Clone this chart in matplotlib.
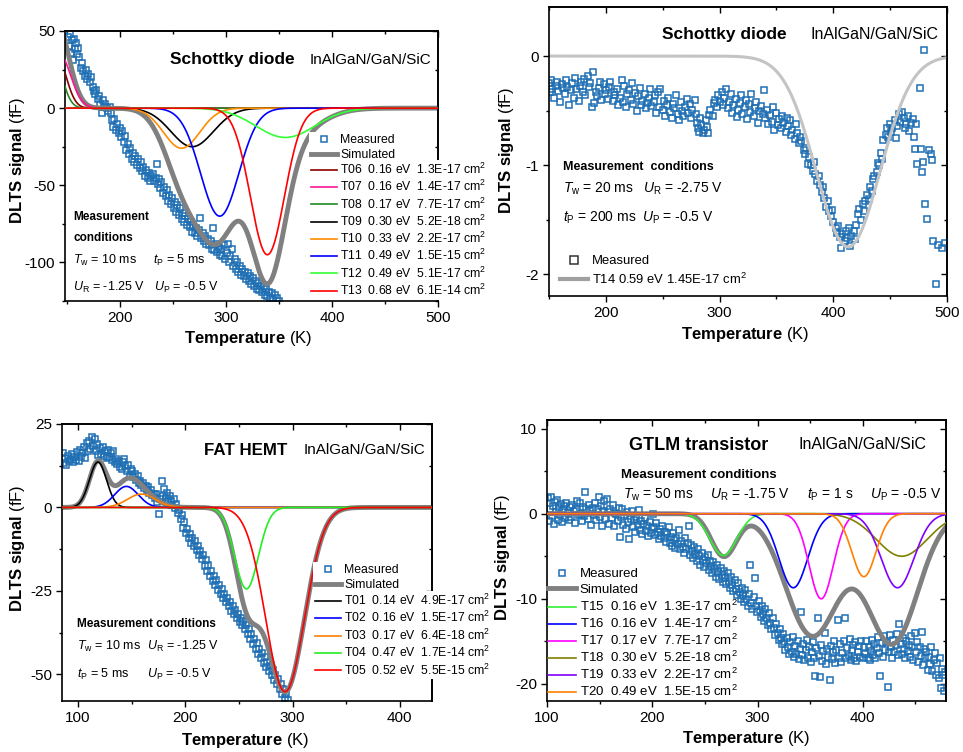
# DLTS spectra of InAlGaN/GaN/SiC devices: four panels, measured points + simulated trap peaks.
import numpy as np
import matplotlib
matplotlib.use("Agg")
import matplotlib.pyplot as plt
from matplotlib.lines import Line2D
from matplotlib.ticker import MultipleLocator

plt.rcParams.update({
    "font.family": ["Liberation Sans", "DejaVu Sans"],
    "mathtext.fontset": "custom",
    "mathtext.rm": "Liberation Sans",
    "mathtext.it": "Liberation Sans:italic",
    "mathtext.bf": "Liberation Sans:bold",
    "axes.unicode_minus": False,
})

W, H = 963, 752
BLUE = "#1f6fb4"
GREY = "#808080"

# ---------------- panel 1: Schottky diode, traps T06-T13
p1_names = ["T06", "T07", "T08", "T09", "T10", "T11", "T12", "T13"]
p1_energy = ["0.16", "0.16", "0.17", "0.30", "0.33", "0.49", "0.49", "0.68"]
p1_xsec = ["1.3E-17", "1.4E-17", "7.7E-17", "5.2E-18", "2.2E-17", "1.5E-15", "5.1E-17", "6.1E-14"]
p1_peak_T = [140, 142, 135, 268, 258, 294, 356, 339]
p1_peak_S = [34, 36, 40, -25, -26, -70, -19, -95]
p1_width = [9, 11, 9, 20, 17, 18, 28, 16]
p1_colors = ["#8b0000", "#ff1493", "#228b22", "#000000", "#ff8c00", "#0000ff", "#33ff33", "#ff0000"]
# low-temperature (positive) part of the grey simulated curve
p1_sim_low = (140, 56, 11.4)

p1_temp = [150.5, 151.5, 152.5, 153.5, 154.5, 155.5, 156.5, 157.5, 158.5, 159.5, 160.5, 161.5,
           163.0, 164.0, 165.0, 166.5, 167.5, 169.0, 170.0, 171.5, 172.5, 174.0, 175.0, 176.5,
           177.5, 179.0, 180.0, 181.5, 182.5, 183.5, 185.0, 186.0, 187.5, 188.5, 190.0, 191.0,
           192.0, 193.5, 194.5, 196.0, 197.0, 198.5, 199.5, 201.0, 202.0, 203.5, 204.5, 206.0,
           207.0, 208.5, 209.5, 211.0, 212.0, 213.5, 214.5, 216.0, 217.0, 218.5, 219.5, 221.0,
           222.0, 223.5, 224.5, 226.0, 227.0, 228.5, 229.5, 231.0, 232.0, 233.5, 234.5, 235.5,
           236.5, 238.0, 239.0, 240.5, 241.5, 243.0, 244.0, 245.5, 246.5, 248.0, 249.0, 250.5,
           251.5, 253.0, 254.0, 255.5, 256.5, 258.0, 259.0, 260.5, 261.5, 263.0, 264.0, 265.5,
           266.5, 268.0, 269.0, 270.5, 271.5, 273.0, 274.0, 275.5, 276.5, 278.0, 279.0, 280.5,
           281.5, 283.0, 284.0, 285.5, 286.5, 288.0, 289.0, 290.5, 291.5, 293.0, 294.0, 295.5,
           296.5, 298.0, 299.0, 300.5, 301.5, 303.0, 304.0, 305.5, 306.5, 308.0, 309.0, 310.5,
           311.5, 313.0, 314.0, 315.5, 316.5, 318.0, 319.0, 320.5, 321.5, 323.0, 324.0, 325.5,
           326.5, 328.0, 329.0, 330.5, 331.5, 333.0, 334.0, 335.5, 336.5, 338.0, 339.0, 340.5,
           341.5, 343.0, 344.5, 346.0, 348.0, 350.0]
p1_signal = [46, 40, 48, 36, 44, 31, 45, 38, 42, 35, 39, 33,
             26, 29, 24, 21, 25, 19, 22, 17, 20, 14, 11, 9,
             12, 6, 8, 3, -3, 5, 1, 3, 0, -2, 1, -3,
             -8, -12, -7, -14, -10, -16, -13, -19, -15, -22, -18, -27,
             -23, -30, -26, -33, -29, -35, -31, -37, -33, -39, -35, -41,
             -38, -44, -40, -45, -42, -47, -44, -43, -47, -45, -36, -49,
             -46, -52, -48, -55, -51, -57, -53, -60, -56, -62, -58, -65,
             -61, -67, -63, -69, -65, -72, -68, -74, -70, -76, -72, -77,
             -74, -80, -76, -81, -78, -83, -79, -71, -84, -81, -86, -83,
             -88, -85, -89, -86, -91, -78, -92, -88, -93, -90, -95, -91,
             -96, -89, -98, -94, -88, -100, -96, -91, -102, -98, -104, -100,
             -106, -102, -108, -104, -109, -106, -111, -107, -112, -109, -114, -110,
             -115, -112, -117, -113, -118, -115, -119, -116, -121, -117, -122, -119,
             -123, -120, -124, -121, -123, -125]

# ---------------- panel 2: Schottky diode, trap T14
p2_peak_T = 413
p2_peak_S = -1.75
p2_width = 28

p2_temp = [150, 151, 152, 153, 154, 156, 157, 158, 160, 161, 162, 164, 165, 166, 168, 169, 170,
           172, 173, 174, 176, 177, 178, 180, 181, 182, 184, 185, 186, 188, 189, 190, 191, 192,
           194, 195, 196, 198, 199, 200, 202, 203, 204, 206, 207, 208, 210, 211, 212, 214, 215,
           216, 218, 219, 220, 222, 223, 224, 226, 227, 228, 230, 231, 232, 234, 235, 236, 238,
           239, 240, 242, 243, 244, 246, 247, 248, 250, 251, 252, 254, 255, 256, 258, 259, 260,
           262, 263, 264, 266, 267, 268, 270, 271, 272, 274, 275, 276, 278, 279, 280, 281, 282,
           283, 284, 285, 286, 288, 289, 290, 291, 292, 294, 295, 296, 298, 299, 300, 302, 303,
           304, 306, 307, 308, 310, 311, 312, 314, 315, 316, 318, 319, 320, 322, 323, 324, 326,
           327, 328, 330, 331, 332, 334, 335, 336, 338, 339, 340, 342, 343, 344, 346, 347, 348,
           350, 351, 352, 354, 355, 356, 358, 359, 360, 362, 363, 364, 366, 367, 368, 370, 371,
           372, 374, 375, 376, 378, 379, 380, 382, 383, 384, 386, 387, 388, 390, 391, 392, 394,
           395, 396, 398, 399, 400, 402, 403, 404, 406, 407, 408, 410, 411, 412, 414, 415, 416,
           418, 419, 420, 422, 423, 424, 426, 427, 428, 430, 431, 432, 434, 435, 436, 438, 439,
           440, 442, 443, 444, 446, 447, 448, 450, 451, 452, 454, 455, 456, 458, 459, 460, 462,
           463, 464, 466, 467, 468, 470, 471, 472, 473, 474, 476, 477, 478, 479, 480, 481, 482,
           484, 486, 487, 488, 490, 492, 496, 498]
p2_signal = [-0.25, -0.33, -0.22, -0.30, -0.38, -0.27, -0.24, -0.32, -0.42, -0.26, -0.29, -0.35,
             -0.22, -0.28, -0.45, -0.31, -0.25, -0.38, -0.20, -0.30, -0.41, -0.27, -0.24, -0.33,
             -0.21, -0.36, -0.18, -0.28, -0.25, -0.47, -0.15, -0.43, -0.33, -0.37, -0.29, -0.24,
             -0.40, -0.26, -0.35, -0.31, -0.39, -0.28, -0.24, -0.41, -0.33, -0.36, -0.30, -0.45,
             -0.38, -0.22, -0.42, -0.27, -0.47, -0.35, -0.31, -0.40, -0.25, -0.44, -0.34, -0.50,
             -0.37, -0.29, -0.45, -0.41, -0.35, -0.48, -0.43, -0.38, -0.30, -0.46, -0.42, -0.36,
             -0.52, -0.33, -0.47, -0.30, -0.49, -0.41, -0.55, -0.45, -0.38, -0.51, -0.57, -0.44,
             -0.48, -0.36, -0.53, -0.59, -0.42, -0.50, -0.55, -0.47, -0.39, -0.52, -0.44, -0.57,
             -0.49, -0.40, -0.53, -0.61, -0.66, -0.70, -0.57, -0.63, -0.71, -0.68, -0.59, -0.65,
             -0.71, -0.54, -0.49, -0.55, -0.43, -0.40, -0.47, -0.36, -0.42, -0.33, -0.45, -0.38,
             -0.30, -0.48, -0.42, -0.35, -0.52, -0.45, -0.39, -0.56, -0.49, -0.43, -0.36, -0.53,
             -0.47, -0.40, -0.58, -0.44, -0.51, -0.35, -0.55, -0.48, -0.42, -0.61, -0.50, -0.46,
             -0.53, -0.31, -0.57, -0.49, -0.62, -0.54, -0.60, -0.47, -0.68, -0.52, -0.63, -0.58,
             -0.66, -0.55, -0.61, -0.70, -0.57, -0.64, -0.59, -0.72, -0.68, -0.76, -0.62, -0.71,
             -0.80, -0.74, -0.78, -0.86, -0.90, -0.84, -0.99, -0.93, -1.00, -1.05, -0.97, -1.08,
             -1.15, -1.10, -1.18, -1.25, -1.20, -1.30, -1.38, -1.33, -1.42, -1.47, -1.41, -1.52,
             -1.58, -1.62, -1.56, -1.66, -1.76, -1.63, -1.70, -1.60, -1.67, -1.58, -1.74, -1.65,
             -1.60, -1.68, -1.55, -1.45, -1.40, -1.50, -1.36, -1.42, -1.33, -1.27, -1.31, -1.20,
             -1.24, -1.13, -1.10, -1.06, -0.98, -1.00, -0.89, -0.94, -0.77, -0.72, -0.66, -0.74,
             -0.62, -0.70, -0.66, -0.59, -0.75, -0.64, -0.53, -0.60, -0.51, -0.57, -0.66, -0.62,
             -0.55, -0.69, -0.61, -0.58, -0.74, -0.85, -0.62, -0.99, -0.29, -0.85, -1.06, -0.97,
             0.06, -1.36, -1.49, -0.86, -0.90, -0.95, -1.70, -2.09, -1.73, -1.76, -1.71]

# ---------------- panel 3: FAT HEMT, traps T01-T05
p3_names = ["T01", "T02", "T03", "T04", "T05"]
p3_energy = ["0.14", "0.16", "0.17", "0.47", "0.52"]
p3_xsec = ["4.9E-17", "1.5E-17", "6.4E-18", "1.7E-14", "5.5E-15"]
p3_peak_T = [118.5, 145, 159, 257, 293]
p3_peak_S = [13.6, 6.3, 4.0, -24.4, -55.2]
p3_width = [8, 11, 13, 11, 18]
p3_colors = ["#000000", "#0000ff", "#ff8000", "#22ee22", "#ff0000"]

p3_temp = [85.5, 86.5, 88.0, 89.0, 90.5, 91.5, 93.0, 94.0, 95.5, 96.5, 98.0, 99.0, 100.5, 101.5,
           103.0, 104.0, 105.5, 106.5, 108.0, 109.0, 110.5, 111.5, 113.0, 114.0, 115.5, 116.5,
           118.0, 119.0, 120.5, 121.5, 123.0, 124.0, 125.5, 126.5, 128.0, 129.0, 130.5, 131.5,
           133.0, 134.0, 135.5, 136.5, 138.0, 139.0, 140.5, 141.5, 143.0, 144.0, 145.5, 146.5,
           148.0, 149.0, 150.5, 151.5, 153.0, 154.0, 155.5, 156.5, 158.0, 159.0, 160.5, 161.5,
           163.0, 164.0, 165.5, 166.5, 168.0, 169.0, 170.5, 171.5, 173.0, 174.0, 175.5, 176.5,
           178.0, 179.0, 180.5, 181.5, 183.0, 184.0, 185.5, 186.5, 188.0, 189.0, 190.5, 191.5,
           193.0, 194.0, 195.5, 196.5, 198.0, 199.0, 200.5, 201.5, 203.0, 204.0, 205.5, 206.5,
           208.0, 209.0, 210.5, 211.5, 213.0, 214.0, 215.5, 216.5, 218.0, 219.0, 220.5, 221.5,
           223.0, 224.0, 225.5, 226.5, 228.0, 229.0, 230.5, 231.5, 233.0, 234.0, 235.5, 236.5,
           238.0, 239.0, 240.5, 241.5, 243.0, 244.0, 245.5, 246.5, 248.0, 249.0, 250.5, 251.5,
           253.0, 254.0, 255.5, 256.5, 258.0, 259.0, 260.5, 261.5, 263.0, 264.0, 265.5, 266.5,
           268.0, 269.0, 270.5, 271.5, 273.0, 274.0, 275.5, 276.5, 278.0, 279.0, 280.5, 281.5,
           283.0, 284.0, 285.5, 286.5, 288.0, 289.0, 290.5, 291.5, 293.0, 294.0, 295.5]
p3_signal = [16.3, 13.2, 14.8, 12.6, 15.4, 13.9, 14.6, 16.0, 13.6, 15.2, 14.1, 16.6, 13.8, 17.3,
             15.1, 16.4, 18.2, 14.9, 19.4, 16.8, 20.0, 17.5, 21.0, 18.4, 20.6, 16.9,
             19.1, 15.8, 17.9, 16.1, 18.0, 15.4, 16.9, 14.7, 17.1, 15.0, 16.3, 14.1,
             17.0, 13.5, 14.6, 12.9, 13.8, 12.2, 11.4, 13.6, 14.4, 12.3, 11.0, 12.8,
             9.6, 11.5, 10.9, 9.0, 10.1, 8.2, 9.3, 7.4, 8.0, 6.6, 7.2, 5.9,
             6.5, 5.1, 6.0, 4.4, 5.2, 3.6, 4.0, 2.7, 3.9, 1.5, -2.0, 2.6,
             7.8, 3.4, 5.4, 2.9, 4.2, 1.8, 3.3, 2.0, 0.6, 2.4, -0.3, 1.0,
             -1.8, -0.8, -3.6, -2.4, -6.2, -4.5, -7.8, -6.4, -9.3, -7.9, -10.6, -9.2,
             -11.6, -10.2, -12.9, -11.5, -14.3, -13.0, -15.6, -14.2, -17.4, -15.9, -18.9, -17.3,
             -20.4, -19.0, -21.9, -20.6, -23.3, -21.8, -24.6, -23.2, -25.8, -24.5, -27.2, -25.8,
             -28.4, -27.0, -29.5, -28.2, -30.9, -29.6, -32.0, -30.6, -33.2, -31.8, -34.4, -33.0,
             -35.3, -34.0, -36.5, -35.1, -37.9, -36.4, -39.4, -37.8, -40.8, -39.3, -42.4, -40.7,
             -44.0, -42.3, -45.2, -43.6, -46.5, -44.9, -47.8, -46.3, -49.0, -47.5, -50.2, -48.7,
             -51.6, -50.1, -52.8, -51.4, -54.3, -52.9, -55.8, -54.4, -57.1, -55.9, -57.6]

# ---------------- panel 4: GTLM transistor, traps T15-T20
p4_names = ["T15", "T16", "T17", "T18", "T19", "T20"]
p4_energy = ["0.16", "0.16", "0.17", "0.30", "0.33", "0.49"]
p4_xsec = ["1.3E-17", "1.4E-17", "7.7E-17", "5.2E-18", "2.2E-17", "1.5E-15"]
p4_peak_T = [267.5, 334, 360.5, 437, 433, 401]
p4_peak_S = [-4.9, -8.7, -10.0, -5.0, -8.7, -7.4]
p4_width = [12.8, 13.6, 11.5, 24, 15.5, 11.5]
p4_colors = ["#33ee33", "#0000ff", "#ff00ff", "#808000", "#8000ff", "#ff8000"]
# grey simulated curve of panel 4, read as three broad dips
p4_sim_T = [268, 352, 428]
p4_sim_S = [-5.0, -14.3, -15.2]
p4_sim_w = [12, 25, 24]

p4_temp = [100.5, 101.5, 102.5, 103.5, 104.5, 105.5, 106.5, 107.5, 108.5, 109.5, 110.5, 111.5,
           112.5, 113.5, 114.5, 115.5, 116.5, 117.5, 118.5, 119.5, 121.0, 122.0, 123.0, 124.0,
           125.5, 126.5, 127.5, 128.5, 130.0, 131.0, 132.0, 133.0, 134.5, 135.5, 136.5, 137.5,
           139.0, 140.0, 141.0, 142.0, 143.5, 144.5, 145.5, 146.5, 148.0, 149.0, 150.0, 151.0,
           152.5, 153.5, 154.5, 155.5, 157.0, 158.0, 159.0, 160.0, 161.5, 162.5, 163.5, 164.5,
           166.0, 167.0, 168.0, 169.0, 170.5, 171.5, 172.5, 173.5, 175.0, 176.0, 177.0, 178.0,
           179.5, 180.5, 181.5, 182.5, 184.0, 185.0, 186.0, 187.0, 188.5, 189.5, 190.5, 191.5,
           193.0, 194.0, 195.0, 196.0, 197.5, 198.5, 199.5, 200.5, 202.0, 203.0, 204.0, 205.0,
           206.5, 207.5, 208.5, 209.5, 211.0, 212.0, 213.0, 214.0, 215.5, 216.5, 217.5, 218.5,
           220.0, 221.0, 222.0, 223.0, 224.5, 225.5, 226.5, 227.5, 229.0, 230.0, 231.0, 232.0,
           233.5, 234.5, 235.5, 236.5, 238.0, 239.0, 240.0, 241.0, 242.5, 243.5, 244.5, 245.5,
           247.0, 248.0, 249.0, 250.0, 251.5, 252.5, 253.5, 254.5, 256.0, 257.0, 258.0, 259.0,
           260.5, 261.5, 262.5, 263.5, 265.0, 266.0, 267.0, 268.0, 269.5, 270.5, 271.5, 272.5,
           274.0, 275.0, 276.0, 277.0, 278.5, 279.5, 280.5, 281.5, 283.0, 284.0, 285.0, 286.0,
           287.5, 288.5, 289.5, 290.5, 292.0, 293.0, 294.0, 295.0, 296.5, 297.5, 298.5, 299.5,
           301.0, 302.0, 303.0, 304.0, 305.5, 306.5, 307.5, 308.5, 310.0, 311.0, 312.0, 313.0,
           314.5, 315.5, 316.5, 317.5, 319.0, 320.0, 321.0, 322.0, 323.5, 324.5, 325.5, 326.5,
           328.0, 329.0, 330.0, 331.0, 332.5, 333.5, 334.5, 335.5, 337.0, 338.0, 339.0, 340.0,
           341.5, 342.5, 343.5, 344.5, 346.0, 347.0, 348.0, 349.0, 350.5, 351.5, 352.5, 353.5,
           355.0, 356.0, 357.0, 358.0, 359.5, 360.5, 361.5, 362.5, 364.0, 365.0, 366.0, 367.0,
           368.5, 369.5, 370.5, 371.5, 373.0, 374.0, 375.0, 376.0, 377.5, 378.5, 379.5, 380.5,
           382.0, 383.0, 384.0, 385.0, 386.5, 387.5, 388.5, 389.5, 391.0, 392.0, 393.0, 394.0,
           395.5, 396.5, 397.5, 398.5, 400.0, 401.0, 402.0, 403.0, 404.5, 405.5, 406.5, 407.5,
           409.0, 410.0, 411.0, 412.0, 413.5, 414.5, 415.5, 416.5, 418.0, 419.0, 420.0, 421.0,
           422.5, 423.5, 424.5, 425.5, 427.0, 428.0, 429.0, 430.0, 431.5, 432.5, 433.5, 434.5,
           436.0, 437.0, 438.0, 439.0, 440.5, 441.5, 442.5, 443.5, 445.0, 446.0, 447.0, 448.0,
           449.5, 450.5, 451.5, 452.5, 454.0, 455.0, 456.0, 457.0, 458.5, 459.5, 460.5, 461.5,
           463.0, 464.0, 465.0, 466.0, 467.5, 468.5, 469.5, 470.5, 472.0, 473.0, 474.0, 475.0,
           476.5, 477.5, 478.5]
p4_signal = [1.8, -0.9, 0.6, 1.9, -0.3, 0.9, -1.2, 1.4, 0.2, 1.6, -0.8, 0.7,
             -0.2, 1.1, -1.0, 0.4, 0.9, -0.5, 1.3, 0.1, -0.7, 0.8, -0.4, 1.0,
             0.3, -1.1, 0.6, 1.5, -0.2, 1.2, 0.0, -0.9, 0.8, -0.3, 2.6, 0.5,
             -0.6, 1.0, 0.4, -1.3, 0.7, -0.1, 1.3, -0.8, 0.5, 1.9, -0.4, 0.9,
             -1.4, 0.3, 1.5, -0.6, 1.7, 0.2, -1.2, 0.6, -0.5, 1.0, -1.5, 0.1,
             0.0, -0.9, 0.7, -2.7, -0.4, 0.5, -1.3, -0.2, -1.8, 0.2, -1.0, -3.0,
             -0.6, 0.3, -1.6, -0.8, -2.2, -0.4, -1.3, 0.4, -1.9, -0.9, -2.4, -1.2,
             -0.5, -2.0, -1.4, -2.6, -1.0, -2.3, -1.7, 0.0, -1.6, -2.5, -1.1, -2.2,
             -3.0, -1.8, -2.6, -1.4, -2.9, -2.1, -3.3, -2.4, -1.6, -3.5, -2.7, -3.8,
             -2.3, -3.1, -4.0, -2.8, -3.6, -1.9, -4.2, -3.2, -3.9, -4.6, -2.9, -4.1,
             -3.4, -1.5, -4.8, -3.7, -4.4, -5.2, -3.9, -4.7, -5.5, -4.2, -5.0, -6.0,
             -4.6, -5.4, -6.3, -5.1, -5.8, -4.8, -6.6, -5.6, -6.2, -7.0, -5.7, -6.5,
             -7.4, -6.0, -6.9, -7.7, -6.4, -7.2, -8.0, -6.7, -7.5, -8.3, -7.0, -7.9,
             -8.7, -7.4, -8.4, -9.1, -7.8, -8.8, -9.5, -8.2, -9.2, -10.0, -8.7, -9.6,
             -10.4, -9.0, -10.0, -10.8, -9.4, -6.0, -10.5, -11.2, -9.8, -7.6, -10.9, -11.6,
             -10.3, -11.3, -12.1, -10.8, -11.8, -12.6, -11.2, -12.3, -13.1, -11.7, -12.8, -13.6,
             -12.3, -13.4, -14.2, -12.9, -14.0, -14.8, -13.5, -14.6, -15.3, -14.1, -15.1, -16.0,
             -14.6, -15.6, -16.5, -15.1, -16.2, -14.5, -16.8, -15.5, -16.5, -15.0, -17.1, -15.9,
             -11.5, -16.6, -15.3, -17.2, -16.0, -14.8, -16.9, -15.6, -17.4, -16.3, -15.1, -17.0,
             -19.1, -15.8, -12.3, -16.7, -19.2, -15.4, -17.3, -16.1, -14.0, -17.6, -15.9, -16.8,
             -19.5, -15.5, -17.1, -16.3, -14.9, -17.5, -16.0, -12.5, -16.9, -15.3, -17.4, -16.4,
             -15.0, -12.3, -17.0, -15.8, -16.7, -14.7, -17.2, -16.0, -15.4, -16.9, -15.1, -17.3,
             -16.2, -15.5, -16.8, -14.9, -17.0, -15.7, -16.5, -15.0, -16.9, -15.6, -17.2, -16.1,
             -14.8, -16.6, -15.3, -17.0, -15.8, -14.5, -16.4, -19.1, -15.2, -16.8, -14.4, -16.0,
             -15.1, -20.4, -16.3, -14.2, -15.7, -16.9, -14.8, -16.2, -15.4, -14.1, -16.6, -12.9,
             -15.3, -16.5, -14.6, -15.9, -17.0, -14.9, -16.1, -15.4, -16.8, -14.4, -15.7, -17.2,
             -14.0, -16.3, -15.1, -17.4, -15.6, -16.7, -13.9, -17.8, -15.9, -17.0, -16.2, -18.3,
             -16.8, -17.6, -15.6, -18.5, -17.2, -16.4, -18.9, -17.5, -19.3, -16.9, -20.5, -18.2,
             -19.0, -20.8, -18.6]


def peak(t, tc, amp, w):
    return amp * np.exp(-0.5 * ((t - tc) / w) ** 2)


def fig_xy(x, y):
    return x / W, 1 - y / H


def put(fig, x, yc, s, pt, bold=False, **kw):
    # x = left edge px, yc = visual centre px of the text line
    fx, fy = fig_xy(x, yc + 0.36 * pt * 100 / 72)
    fig.text(fx, fy, s, fontsize=pt, fontweight="bold" if bold else "normal",
             va="baseline", ha="left", **kw)


def setup(ax, xlim, ylim, xmaj, xmin_, ymaj, ymin_):
    ax.set_xlim(*xlim)
    ax.set_ylim(*ylim)
    ax.xaxis.set_major_locator(MultipleLocator(xmaj))
    ax.xaxis.set_minor_locator(MultipleLocator(xmin_))
    ax.yaxis.set_major_locator(MultipleLocator(ymaj))
    ax.yaxis.set_minor_locator(MultipleLocator(ymin_))
    ax.tick_params(which="both", direction="out", top=False, right=False, labelsize=11, width=1)
    ax.tick_params(which="major", length=4.5, pad=2.5)
    ax.tick_params(which="minor", length=2.5)
    for s in ax.spines.values():
        s.set_linewidth(1.2)
    top = ax.secondary_xaxis("top")
    top.xaxis.set_major_locator(MultipleLocator(xmaj))
    top.xaxis.set_minor_locator(MultipleLocator(xmin_))
    top.tick_params(which="both", direction="in", labeltop=False, width=1)
    top.tick_params(which="major", length=4.5)
    top.tick_params(which="minor", length=2.5)
    right = ax.secondary_yaxis("right")
    right.yaxis.set_major_locator(MultipleLocator(ymaj))
    right.yaxis.set_minor_locator(MultipleLocator(ymin_))
    right.tick_params(which="both", direction="in", labelright=False, width=1)
    right.tick_params(which="major", length=4.5)
    right.tick_params(which="minor", length=2.5)
    for sec in (top, right):
        for s in sec.spines.values():
            s.set_linewidth(1.2)


def labels(fig, xc, xy, yx, yc):
    fx, fy = fig_xy(xc, xy)
    fig.text(fx, fy, r"$\mathbf{Temperature}$ (K)", fontsize=12, ha="center", va="center")
    fx, fy = fig_xy(yx, yc)
    fig.text(fx, fy, r"$\mathbf{DLTS\ signal}$ (fF)", fontsize=12, ha="center", va="center",
             rotation=90)


def measured(ax, t, s):
    return ax.plot(t, s, ls="none", marker="s", ms=5, mfc="none", mec=BLUE, mew=1.1,
                   label="Measured", zorder=1.5)[0]


def trap_label(n, e, x):
    return f"{n}  {e} eV  {x} cm$^2$"


def two_legends(ax, handles, x, top_a, top_b, size, space_a, space_b, framed):
    # upper block: Measured / Simulated, lower block: trap list
    kw = dict(loc="upper left", bbox_transform=fig.transFigure, fontsize=size,
              borderaxespad=0, handlelength=2.1, handletextpad=0.3)
    if framed:
        kw.update(frameon=True, fancybox=False, framealpha=1, edgecolor="none",
                  facecolor="white", borderpad=0.15)
    else:
        kw.update(frameon=False, borderpad=0)
    leg_a = ax.legend(handles=handles[:2], bbox_to_anchor=fig_xy(x, top_a),
                      labelspacing=space_a, **kw)
    ax.add_artist(leg_a)
    ax.legend(handles=handles[2:], bbox_to_anchor=fig_xy(x, top_b),
              labelspacing=space_b, **kw)


fig = plt.figure(figsize=(W / 100, H / 100), dpi=100)

# ---------------- panel 1
ax1 = fig.add_axes([0.0675, 0.5997, 0.3873, 0.3591])
setup(ax1, (148, 500), (-125, 50), 100, 50, 50, 25)
t = np.linspace(148, 500, 800)
h = [measured(ax1, p1_temp, p1_signal)]
sim = peak(t, *p1_sim_low) + sum(peak(t, c, a, w) for c, a, w in
                                  zip(p1_peak_T[3:], p1_peak_S[3:], p1_width[3:]))
h.append(ax1.plot(t, sim, color=GREY, lw=3.5, label="Simulated", zorder=2)[0])
for n, e, x, c, a, w, col in zip(p1_names, p1_energy, p1_xsec, p1_peak_T, p1_peak_S,
                                 p1_width, p1_colors):
    h.append(ax1.plot(t, peak(t, c, a, w), color=col, lw=1.2, zorder=3,
                      label=trap_label(n, e, x))[0])
two_legends(ax1, h, 309, 132, 160, 8.8, 0.25, 0.17, True)
put(fig, 170, 58, "Schottky diode", 12.5, bold=True)
put(fig, 310, 58, "InAlGaN/GaN/SiC", 11)
put(fig, 73, 216, "Measurement", 8.5, bold=True)
put(fig, 73, 237, "conditions", 8.5, bold=True)
put(fig, 73, 259, r"$T_\mathrm{w}$ = 10 ms", 9)
put(fig, 153, 259, r"$t_\mathrm{P}$ = 5 ms", 9)
put(fig, 73, 286, r"$U_\mathrm{R}$ = -1.25 V", 9)
put(fig, 154, 286, r"$U_\mathrm{P}$ = -0.5 V", 9)
labels(fig, 248, 338, 18, 160)

# ---------------- panel 2
ax2 = fig.add_axes([0.5701, 0.6064, 0.4133, 0.3843])
setup(ax2, (150, 500), (-2.2, 0.45), 100, 50, 1, 0.5)
t = np.linspace(150, 500, 800)
ax2.plot(p2_temp, p2_signal, ls="none", marker="s", ms=5, mfc="none", mec=BLUE, mew=1.1,
         zorder=1.5)
ax2.plot(t, peak(t, p2_peak_T, p2_peak_S, p2_width), color="#c4c4c4", lw=2.2, zorder=2)
h2 = [Line2D([], [], ls="none", marker="s", ms=5.5, mfc="none", mec="#333333", mew=1.1),
      Line2D([], [], color="#a0a0a0", lw=3)]
ax2.legend(h2, ["Measured", "T14 0.59 eV 1.45E-17 cm$^2$"], loc="upper left",
           bbox_to_anchor=fig_xy(560, 255), bbox_transform=fig.transFigure, fontsize=9.4,
           frameon=False, borderpad=0, borderaxespad=0, handlelength=2.15,
           handletextpad=0.3, labelspacing=0.36)
put(fig, 662, 33, "Schottky diode", 12.5, bold=True)
put(fig, 810, 33, "InAlGaN/GaN/SiC", 11.5)
put(fig, 563, 165, "Measurement  conditions", 9, bold=True)
put(fig, 563, 188, r"$T_\mathrm{w}$ = 20 ms", 10)
put(fig, 643, 188, r"$U_\mathrm{R}$ = -2.75 V", 10)
put(fig, 563, 217, r"$t_\mathrm{P}$ = 200 ms", 10)
put(fig, 642, 217, r"$U_\mathrm{P}$ = -0.5 V", 10)
labels(fig, 745, 335, 507, 150)

# ---------------- panel 3
ax3 = fig.add_axes([0.0644, 0.0678, 0.3842, 0.3684])
setup(ax3, (85, 430), (-58, 25), 100, 50, 25, 12.5)
t = np.linspace(85, 430, 800)
h = [measured(ax3, p3_temp, p3_signal)]
sim = sum(peak(t, c, a, w) for c, a, w in zip(p3_peak_T, p3_peak_S, p3_width))
h.append(ax3.plot(t, sim, color=GREY, lw=3.5, label="Simulated", zorder=2)[0])
for n, e, x, c, a, w, col in zip(p3_names, p3_energy, p3_xsec, p3_peak_T, p3_peak_S,
                                 p3_width, p3_colors):
    h.append(ax3.plot(t, peak(t, c, a, w), color=col, lw=1.2, zorder=3,
                      label=trap_label(n, e, x))[0])
two_legends(ax3, h, 313, 562, 591, 8.8, 0.25, 0.18, True)
put(fig, 204, 449, "FAT HEMT", 12.2, bold=True)
put(fig, 304, 449, "InAlGaN/GaN/SiC", 11)
put(fig, 77, 623, "Measurement conditions", 8.5, bold=True)
put(fig, 77, 645, r"$T_\mathrm{w}$ = 10 ms", 9)
put(fig, 147, 645, r"$U_\mathrm{R}$ = -1.25 V", 9)
put(fig, 77, 673, r"$t_\mathrm{P}$ = 5 ms", 9)
put(fig, 147, 673, r"$U_\mathrm{P}$ = -0.5 V", 9)
labels(fig, 245, 740, 18, 548)

# ---------------- panel 4
ax4 = fig.add_axes([0.5680, 0.0678, 0.4143, 0.3737])
setup(ax4, (100, 479), (-22, 11), 100, 50, 10, 5)
t = np.linspace(100, 479, 800)
h = [measured(ax4, p4_temp, p4_signal)]
sim = sum(peak(t, c, a, w) for c, a, w in zip(p4_sim_T, p4_sim_S, p4_sim_w))
h.append(ax4.plot(t, sim, color=GREY, lw=3.5, label="Simulated", zorder=2)[0])
for n, e, x, c, a, w, col in zip(p4_names, p4_energy, p4_xsec, p4_peak_T, p4_peak_S,
                                 p4_width, p4_colors):
    h.append(ax4.plot(t, peak(t, c, a, w), color=col, lw=1.2, zorder=3,
                      label=trap_label(n, e, x))[0])
two_legends(ax4, h, 548, 568, 599, 9.5, 0.23, 0.14, False)
put(fig, 629, 443, "GTLM transistor", 13, bold=True)
put(fig, 798, 443, "InAlGaN/GaN/SiC", 11.5)
put(fig, 621, 473, "Measurement conditions", 9.5, bold=True)
put(fig, 623, 494, r"$T_\mathrm{w}$ = 50 ms", 10)
put(fig, 710, 494, r"$U_\mathrm{R}$ = -1.75 V", 10)
put(fig, 807, 494, r"$t_\mathrm{P}$ = 1 s", 10)
put(fig, 870, 494, r"$U_\mathrm{P}$ = -0.5 V", 10)
labels(fig, 746, 739, 502, 557)

fig.savefig("out.png", dpi=100)
